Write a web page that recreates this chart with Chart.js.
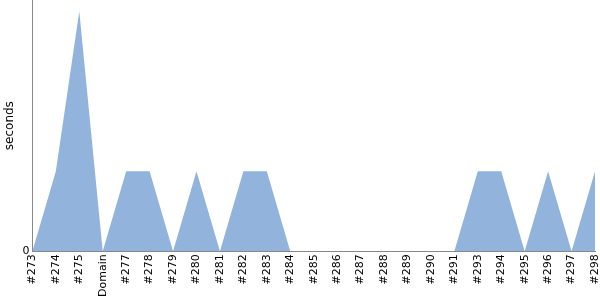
<!DOCTYPE html>
<html>
<head>
<meta charset="utf-8">
<script src="https://cdn.jsdelivr.net/npm/chart.js@4"></script>
<style>
  html, body { margin: 0; padding: 0; background: #fff; }
  #wrap { width: 600px; height: 300px; }
</style>
</head>
<body>
<div id="wrap"><canvas id="chart"></canvas></div>
<script>
// build labels and their durations (seconds)
const builds = ["#273", "#274", "#275", "Domain", "#277", "#278", "#279", "#280", "#281", "#282", "#283", "#284", "#285", "#286", "#287", "#288", "#289", "#290", "#291", "#293", "#294", "#295", "#296", "#297", "#298"]
const seconds = [0, 1, 3, 0, 1, 1, 0, 1, 0, 1, 1, 0, 0, 0, 0, 0, 0, 0, 0, 1, 1, 0, 1, 0, 1]
const yTicks = [0]

Chart.defaults.font.family = "DejaVu Sans"
Chart.defaults.font.size = 11
Chart.defaults.color = "#000"

new Chart("chart", {
  type: "line",
  data: {
    labels: builds,
    datasets: [{
      data: seconds,
      fill: "origin",
      backgroundColor: "#92b4dc",
      borderWidth: 0,
      pointRadius: 0,
      tension: 0
    }]
  },
  options: {
    responsive: true,
    maintainAspectRatio: false,
    animation: false,
    layout: { padding: { top: 0, right: 5, left: 1, bottom: 0 } },
    plugins: { legend: { display: false }, tooltip: { enabled: false } },
    scales: {
      x: {
        offset: false,
        grid: { display: false, drawTicks: false },
        border: { color: "#888" },
        ticks: { autoSkip: false, maxRotation: 90, minRotation: 90, padding: 3 },
        afterFit: s => { s.paddingLeft = 0; s.paddingRight = 0 }
      },
      y: {
        min: 0,
        max: 3.14,
        afterBuildTicks: axis => { axis.ticks = yTicks.map(v => ({ value: v })) },
        afterFit: s => { s.paddingTop = 0; s.paddingBottom = 0 },
        grid: { display: false, drawTicks: false },
        border: { color: "#888" },
        ticks: { padding: 3 },
        title: { display: true, text: "seconds", font: { size: 12 }, padding: 2 }
      }
    }
  }
})
</script>
</body>
</html>
